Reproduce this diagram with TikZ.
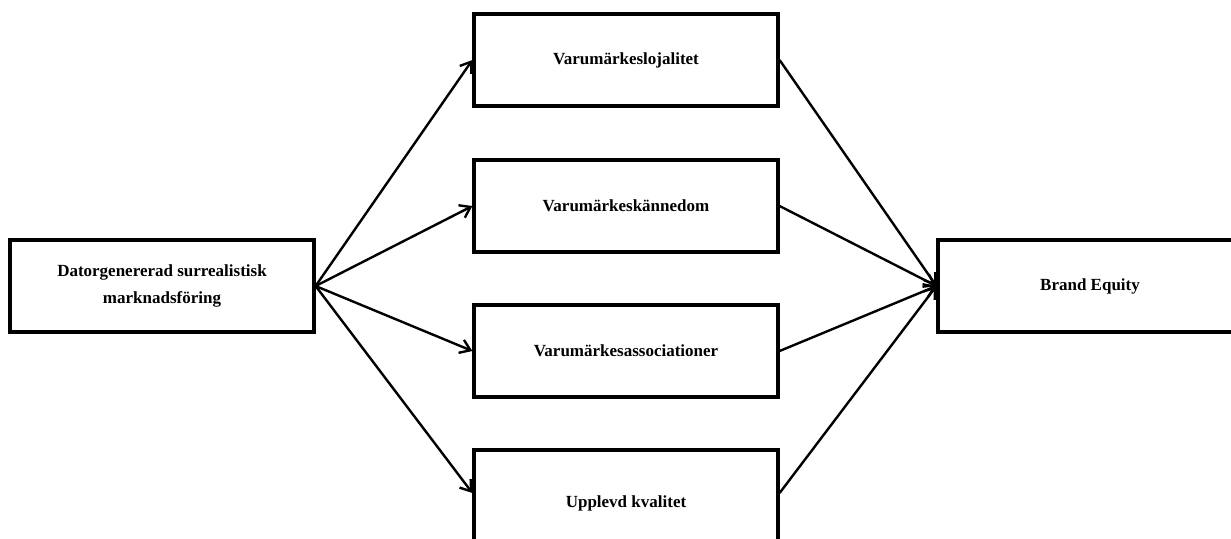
\documentclass[tikz,border=0pt]{standalone}
\usepackage{fontspec}
\setmainfont{Liberation Serif}
\usetikzlibrary{arrows.meta}
\begin{document}
\begin{tikzpicture}[x=0.5pt,y=-0.5pt,
  box/.style={draw, line width=1.6pt, minimum width=152pt, minimum height=46pt, inner sep=0pt, font=\bfseries\fontsize{8.5}{13.5}\selectfont, align=center},
  conn/.style={line width=1.2pt, -{Straight Barb[length=5pt,width=7pt,line width=1.2pt]}}]
\clip (0,0) rectangle (1231,538);
\fill[white] (0,0) rectangle (1231,538);
\node[box] (src) at (162,286) {Datorgenererad surrealistisk\\marknadsföring};
\node[box] (b1) at (626,60) {Varumärkeslojalitet};
\node[box] (b2) at (626,206) {Varumärkeskännedom};
\node[box] (b3) at (626,351) {Varumärkesassociationer};
\node[box, minimum height=53pt] (b4) at (626,503) {Upplevd kvalitet};
\node[box] (be) at (1090,286) {Brand Equity};
\draw[conn] (src.east) -- (b1.west);
\draw[conn] (src.east) -- (b2.west);
\draw[conn] (src.east) -- (b3.west);
\draw[conn] (src.east) -- ([yshift=5pt]b4.west);
\draw[conn] (b1.east) -- (be.west);
\draw[conn] (b2.east) -- (be.west);
\draw[conn] (b3.east) -- (be.west);
\draw[conn] ([yshift=5pt]b4.east) -- (be.west);
\end{tikzpicture}
\end{document}
